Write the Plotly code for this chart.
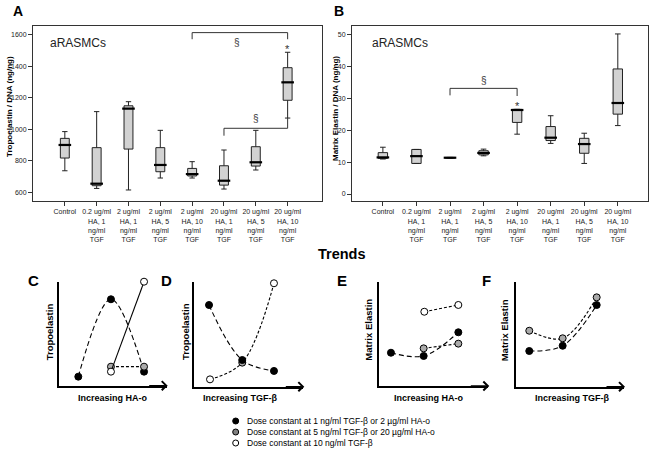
import plotly.graph_objects as go

W, H = 651, 451
FONT = "Liberation Sans, Arial, sans-serif"

# ---------------- data ----------------
categories = ["Control",
              "0.2 ug/ml<br>HA, 1<br>ng/ml<br>TGF",
              "2 ug/ml<br>HA, 1<br>ng/ml<br>TGF",
              "2 ug/ml<br>HA, 5<br>ng/ml<br>TGF",
              "2 ug/ml<br>HA, 10<br>ng/ml<br>TGF",
              "20 ug/ml<br>HA, 1<br>ng/ml<br>TGF",
              "20 ug/ml<br>HA, 5<br>ng/ml<br>TGF",
              "20 ug/ml<br>HA, 10<br>ng/ml<br>TGF"]

# Panel A: Tropoelastin / DNA (ng/ng)
tropo_low = [737, 625, 615, 691, 691, 621, 742, 1072]
tropo_q1 = [818, 642, 875, 731, 704, 646, 767, 1185]
tropo_med = [901, 655, 1132, 774, 716, 674, 791, 1299]
tropo_q3 = [943, 884, 1150, 884, 752, 769, 890, 1392]
tropo_high = [986, 1113, 1176, 994, 795, 869, 994, 1490]
tropo_ticks = [600, 800, 1000, 1200, 1400, 1600]

# Panel B: Matrix Elastin / DNA (ng/ng)
elastin_low = [11.0, 9.6, 11.4, 12.0, 18.8, 15.9, 9.6, 21.5]
elastin_q1 = [11.2, 9.6, 11.3, 12.3, 22.5, 16.8, 12.8, 25.1]
elastin_med = [11.5, 11.9, 11.4, 12.9, 26.4, 17.7, 15.7, 28.6]
elastin_q3 = [13.0, 14.0, 11.5, 13.6, 26.6, 21.2, 17.5, 39.3]
elastin_high = [14.7, 14.0, 11.5, 14.1, 26.6, 24.6, 19.1, 50.3]
elastin_ticks = [0, 10, 20, 30, 40, 50]

# significance brackets: (x_left, x_right, y_bar, y_left_end, y_right_end)
brackets_A = [(4, 7, 1615, 1573, 1573), (5, 7, 1007, 960, 1074)]
brackets_B = [(2, 4, 33.2, 31.0, 30.8)]
section_A = [(5.4, 1552), (6.0, 1068)]
section_B = [(3.0, 35.8)]
star_A = [(7, 1512)]
star_B = [(4, 27.6)]

# Trend panels (relative positions within each sketch)
C_black_x, C_black_y = [0.177, 0.481, 0.789], [0.087, 0.831, 0.135]
C_grey_x, C_grey_y = [0.481, 0.789], [0.183, 0.183]
C_white_x, C_white_y = [0.481, 0.789], [0.135, 1.0]

D_black_x, D_black_y = [0.135, 0.440, 0.731], [0.778, 0.254, 0.150]
D_mix_x, D_mix_y = [0.144, 0.440, 0.731], [0.070, 0.229, 0.985]

E_black_x, E_black_y = [0.107, 0.407, 0.725], [0.319, 0.288, 0.515]
E_grey_x, E_grey_y = [0.407, 0.725], [0.361, 0.406]
E_white_x, E_white_y = [0.413, 0.725], [0.712, 0.777]

F_grey_x, F_grey_y = [0.123, 0.432, 0.747], [0.533, 0.461, 0.851]
F_black_x, F_black_y = [0.123, 0.432, 0.747], [0.340, 0.390, 0.778]

legend_labels = ["Dose constant at 1 ng/ml TGF-β or 2 µg/ml HA-o",
                 "Dose constant at 5 ng/ml TGF-β or 20 µg/ml HA-o",
                 "Dose constant at 10 ng/ml TGF-β"]

# ---------------- helpers ----------------
def px(x):
    return x / W


def py(y):
    return 1 - y / H


BLACK = "#000000"
GREY = "#aaaaaa"
WHITE = "#ffffff"
LEG_COLORS = [BLACK, "#808080", WHITE]
LONG = "5px,3px"
SHORT = "3px,2px"

fig = go.Figure()
xs = list(range(len(categories)))


def add_box_panel(xa, ya, low, q1, med, q3, high, brackets, sections, stars):
    fig.add_trace(go.Box(x=xs, q1=q1, median=med, q3=q3, lowerfence=low,
                         upperfence=high, width=0.28, whiskerwidth=0.6,
                         fillcolor="#d2d2d2", line=dict(color="#222222", width=1),
                         boxpoints=False, xaxis=xa, yaxis=ya,
                         showlegend=False, hoverinfo="skip"))
    fig.add_trace(go.Scatter(x=xs, y=med, mode="markers", xaxis=xa, yaxis=ya,
                             marker=dict(symbol="line-ew", size=9,
                                         line=dict(width=2.2, color="black")),
                             showlegend=False, hoverinfo="skip"))
    for (xl, xr, yb, yl, yr) in brackets:
        fig.add_trace(go.Scatter(x=[xl, xl, xr, xr], y=[yl, yb, yb, yr],
                                 mode="lines", xaxis=xa, yaxis=ya,
                                 line=dict(color="#333333", width=1),
                                 showlegend=False, hoverinfo="skip"))
    for (sx, sy) in sections:
        fig.add_annotation(x=sx, y=sy, xref=xa, yref=ya, text="§", showarrow=False,
                           font=dict(family=FONT, size=10, color="#333333"))
    for (sx, sy) in stars:
        fig.add_annotation(x=sx, y=sy, xref=xa, yref=ya, text="*", showarrow=False,
                           font=dict(family=FONT, size=11, color="#333333"))


add_box_panel("x", "y", tropo_low, tropo_q1, tropo_med, tropo_q3, tropo_high,
              brackets_A, section_A, star_A)
add_box_panel("x2", "y2", elastin_low, elastin_q1, elastin_med, elastin_q3,
              elastin_high, brackets_B, section_B, star_B)


def add_trend(xa, ya, x, y, dash, colors):
    fig.add_trace(go.Scatter(x=x, y=y, mode="lines+markers", xaxis=xa, yaxis=ya,
                             line=dict(color="black", width=1.1, dash=dash,
                                       shape="spline", smoothing=1.0),
                             marker=dict(size=7, color=colors,
                                         line=dict(color="black", width=1)),
                             cliponaxis=False, showlegend=False, hoverinfo="skip"))


add_trend("x3", "y3", C_black_x, C_black_y, LONG, BLACK)
add_trend("x3", "y3", C_grey_x, C_grey_y, SHORT, GREY)
add_trend("x3", "y3", C_white_x, C_white_y, "solid", WHITE)
add_trend("x4", "y4", D_mix_x, D_mix_y, SHORT, [WHITE, GREY, WHITE])
add_trend("x4", "y4", D_black_x, D_black_y, LONG, BLACK)
add_trend("x5", "y5", E_black_x, E_black_y, LONG, BLACK)
add_trend("x5", "y5", E_grey_x, E_grey_y, SHORT, GREY)
add_trend("x5", "y5", E_white_x, E_white_y, SHORT, WHITE)
add_trend("x6", "y6", F_grey_x, F_grey_y, SHORT, GREY)
add_trend("x6", "y6", F_black_x, F_black_y, LONG, BLACK)

# ---------------- layout ----------------
tickfont = dict(family=FONT, size=7, color="#222222")
box_x = dict(tickmode="array", tickvals=xs, ticktext=categories, ticks="outside",
             ticklen=4, tickcolor="#333333", tickfont=tickfont, showline=True,
             mirror=True, linecolor="#333333", linewidth=1, showgrid=False,
             zeroline=False, fixedrange=True)
box_y = dict(ticks="outside", ticklen=4, tickcolor="#333333", tickfont=tickfont,
             showline=True, mirror=True, linecolor="#333333", linewidth=1,
             showgrid=False, zeroline=False, fixedrange=True)

top_dom = [py(201), py(26)]
layout = dict(
    width=W, height=H, margin=dict(l=0, r=0, t=0, b=0),
    paper_bgcolor="white", plot_bgcolor="white", showlegend=False,
    font=dict(family=FONT, color="black"),
    xaxis=dict(box_x, domain=[px(33), px(322)], range=[-1.0, 8.08], anchor="y"),
    yaxis=dict(box_y, domain=top_dom, range=[545, 1657], tickvals=tropo_ticks,
               anchor="x"),
    xaxis2=dict(box_x, domain=[px(352), px(648)], range=[-0.92, 7.9], anchor="y2"),
    yaxis2=dict(box_y, domain=top_dom, range=[-2.2, 52.8], tickvals=elastin_ticks,
                anchor="x2"),
)

trend_doms = {
    3: ([59.3, 166.7], [385.7, 281.7]),
    4: ([194.3, 303.3], [386.7, 281.7]),
    5: ([379.3, 488.3], [386.0, 281.7]),
    6: ([516.0, 624.0], [386.7, 281.7]),
}
for k, (xd, yd) in trend_doms.items():
    layout[f"xaxis{k}"] = dict(domain=[px(xd[0]), px(xd[1])], range=[0, 1],
                               showline=True, linecolor="black", linewidth=1.6,
                               showticklabels=False, ticks="", showgrid=False,
                               zeroline=False, anchor=f"y{k}", fixedrange=True)
    layout[f"yaxis{k}"] = dict(domain=[py(yd[0]), py(yd[1])], range=[0, 1],
                               showline=True, linecolor="black", linewidth=1.6,
                               showticklabels=False, ticks="", showgrid=False,
                               zeroline=False, anchor=f"x{k}", fixedrange=True)
fig.update_layout(**layout)

def note(x, y, text, size, bold=False, angle=0, xanchor="center", color="black"):
    t = f"<b>{text}</b>" if bold else text
    fig.add_annotation(x=px(x), y=py(y), xref="paper", yref="paper", text=t,
                       showarrow=False, textangle=angle, xanchor=xanchor,
                       yanchor="middle", font=dict(family=FONT, size=size, color=color))

# panel letters
note(18, 11, "A", 14, bold=True)
note(339, 11, "B", 14, bold=True)
note(33, 280, "C", 15, bold=True)
note(166, 280, "D", 15, bold=True)
note(342, 280, "E", 15, bold=True)
note(486, 280, "F", 15, bold=True)
note(341.5, 254, "Trends", 14.5, bold=True)

note(48, 43, "aRASMCs", 12, xanchor="left", color="#222222")
note(370, 43, "aRASMCs", 12, xanchor="left", color="#222222")
note(9, 107, "Tropoelastin / DNA (ng/ng)", 8, bold=True, angle=-90)
note(335, 108, "Matrix Elastin / DNA (ng/ng)", 8, bold=True, angle=-90)

# trend axis titles
note(49.3, 332, "Tropoelastin", 9.5, bold=True, angle=-90)
note(185, 332, "Tropoelastin", 9.5, bold=True, angle=-90)
note(367.7, 330, "Matrix Elastin", 9.5, bold=True, angle=-90)
note(504.3, 330, "Matrix Elastin", 9.5, bold=True, angle=-90)
note(113, 398, "Increasing HA-o", 9, bold=True)
note(240, 398, "Increasing TGF-β", 9, bold=True)
note(429, 398, "Increasing HA-o", 9, bold=True)
note(572, 398, "Increasing TGF-β", 9, bold=True)

# arrowheads on trend x axes
for k, (xd, yd) in trend_doms.items():
    fig.add_annotation(x=px(xd[1] + 1), y=py(yd[0]), xref="paper", yref="paper",
                       text="", showarrow=True, ax=-20, ay=0, arrowhead=4,
                       arrowsize=1.1, arrowwidth=1.6, arrowcolor="black", standoff=0)

# legend
for i, (lab, col) in enumerate(zip(legend_labels, LEG_COLORS)):
    yy = 421 + 11 * i
    fig.add_shape(type="circle", xref="paper", yref="paper",
                  xsizemode="pixel", ysizemode="pixel",
                  xanchor=px(235.7), yanchor=py(yy), x0=-3, x1=3, y0=-3, y1=3,
                  fillcolor=col, line=dict(color="black", width=1))
    note(245, yy, lab, 8.5, xanchor="left")

fig.write_html("out.html",
               config={"displayModeBar": False},
               post_script="document.body.style.margin='0';"
                           "document.body.style.overflow='hidden';")
